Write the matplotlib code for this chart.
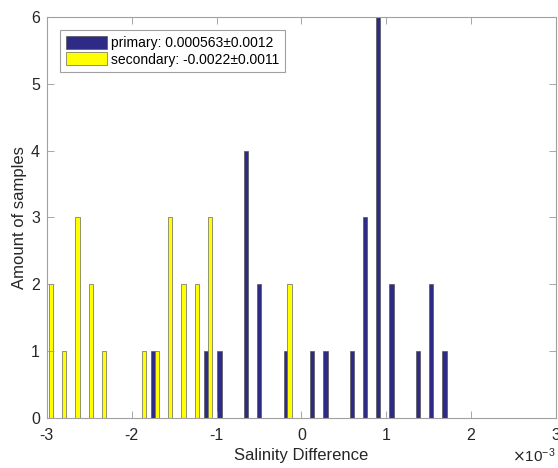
import matplotlib.pyplot as plt
import numpy as np
from matplotlib.ticker import ScalarFormatter

plt.rcParams['font.family'] = ['Liberation Sans', 'DejaVu Sans']
plt.rcParams['axes.unicode_minus'] = False

# histogram bins (31 bins, centres in salinity units)
first_centre = -2.972e-3
bin_width = 0.1561e-3
n_bins = 31
centres = first_centre + bin_width * np.arange(n_bins)

primary = [0, 0, 0, 0, 0, 0, 0, 0, 1, 0, 0, 0, 1, 1, 0, 4,
           2, 0, 1, 0, 1, 1, 0, 1, 3, 6, 2, 0, 1, 2, 1]
secondary = [2, 1, 3, 2, 1, 0, 0, 1, 1, 3, 2, 2, 3, 0, 0, 0,
             0, 0, 2, 0, 0, 0, 0, 0, 0, 0, 0, 0, 0, 0, 0]
labels = ['primary: 0.000563\u00b10.0012', 'secondary: -0.0022\u00b10.0011']


class MilliFormatter(ScalarFormatter):
    # plain hyphen tick labels, keep the x10^-3 offset text
    def __call__(self, x, pos=None):
        return '%g' % round(x * 1e3, 6)


fig = plt.figure(figsize=(5.58, 4.68), dpi=100)
ax = fig.add_axes([0.084, 0.107, 0.912, 0.857])

shift = 0.022e-3
w = 0.05e-3
ax.bar(centres - shift, primary, width=w, color='#2e2b87', edgecolor='#555555',
       linewidth=0.5, label=labels[0])
ax.bar(centres + shift, secondary, width=w, color='#ffff00', edgecolor='#666666',
       linewidth=0.5, label=labels[1])

ax.set_xlim(-3e-3, 3e-3)
ax.set_ylim(0, 6)
ax.set_xticks(np.arange(-3, 4) * 1e-3)
ax.set_yticks(range(7))
fmt = MilliFormatter(useMathText=True)
fmt.set_powerlimits((-3, -3))
ax.xaxis.set_major_formatter(fmt)
ax.xaxis.get_offset_text().set_fontsize(11)
ax.xaxis.get_offset_text().set_color('#333333')

ax.tick_params(direction='in', top=True, right=True, length=5, width=0.6,
               color='#999999', labelsize=11.5, labelcolor='#262626')
ax.tick_params(axis='x', pad=7)
ax.tick_params(axis='y', pad=5)
for s in ax.spines.values():
    s.set_color('#a0a0a0')
    s.set_linewidth(0.8)

ax.set_xlabel('Salinity Difference', fontsize=12, color='#262626', labelpad=4)
ax.set_ylabel('Amount of samples', fontsize=12, color='#262626', labelpad=3)

leg = ax.legend(loc='upper left', bbox_to_anchor=(0.026, 0.967), fontsize=10,
                fancybox=False, framealpha=1, edgecolor='#a0a0a0',
                handlelength=3.0, handleheight=1.1, handletextpad=0.25,
                borderpad=0.4, labelspacing=0.15, borderaxespad=0)
leg.get_frame().set_linewidth(0.8)

fig.savefig('out.png', dpi=100)
